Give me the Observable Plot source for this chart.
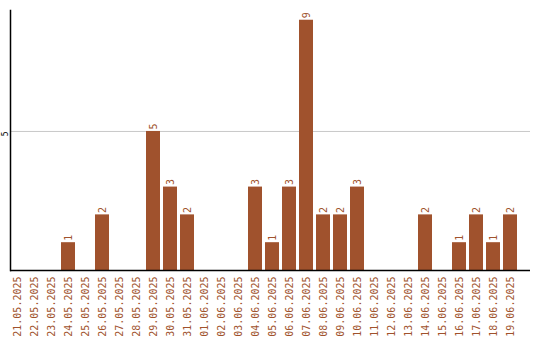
<!DOCTYPE html>
<html>
<head>
<meta charset="utf-8">
<script src="https://cdn.jsdelivr.net/npm/d3@7"></script>
<script src="https://cdn.jsdelivr.net/npm/@observablehq/plot@0.6"></script>
<style>
  html, body { margin: 0; padding: 0; background: #fff; }
</style>
</head>
<body>
<div id="chart"></div>
<script>
const dates = ["21.05.2025","22.05.2025","23.05.2025","24.05.2025","25.05.2025","26.05.2025","27.05.2025","28.05.2025","29.05.2025","30.05.2025","31.05.2025","01.06.2025","02.06.2025","03.06.2025","04.06.2025","05.06.2025","06.06.2025","07.06.2025","08.06.2025","09.06.2025","10.06.2025","11.06.2025","12.06.2025","13.06.2025","14.06.2025","15.06.2025","16.06.2025","17.06.2025","18.06.2025","19.06.2025"];
const counts = [0,0,0,1,0,2,0,0,5,3,2,0,0,0,3,1,3,9,2,2,3,0,0,0,2,0,1,2,1,2];
const yTicks = [5];

const data = dates.map((d, i) => ({date: d, value: counts[i]}));
const color = "#a0522d";
const mono = "'DejaVu Sans Mono', monospace";

const chart = Plot.plot({
  width: 540,
  height: 340,
  marginLeft: 10,
  marginRight: 10,
  marginTop: 10,
  marginBottom: 70,
  style: {background: "#fff"},
  x: {domain: dates, range: [7, 520], padding: 3 / 17},
  y: {domain: [0, 9.35]},
  marks: [
    Plot.gridY(yTicks, {stroke: "#c8c8c8", strokeOpacity: 1}),
    Plot.barY(data, {x: "date", y: "value", fill: color}),
    Plot.text(data.filter(d => d.value > 0), {
      x: "date", y: "value", text: d => String(d.value),
      rotate: -90, textAnchor: "start", dy: -2,
      fill: color, fontSize: 10, fontFamily: mono
    }),
    Plot.axisX({tickSize: 0, tickPadding: 6, tickRotate: -90, fill: color, fontSize: 10, fontFamily: mono, label: null}),
    Plot.axisY(yTicks, {tickSize: 0, tickPadding: 3, tickRotate: -90, textAnchor: "end", fill: "#000", fontSize: 8, fontFamily: mono, label: null}),
    Plot.ruleY([0], {stroke: "#000", strokeWidth: 1.5}),
    Plot.frame({anchor: "left", stroke: "#000", strokeWidth: 1.5})
  ]
});
document.getElementById("chart").appendChild(chart);
</script>
</body>
</html>
